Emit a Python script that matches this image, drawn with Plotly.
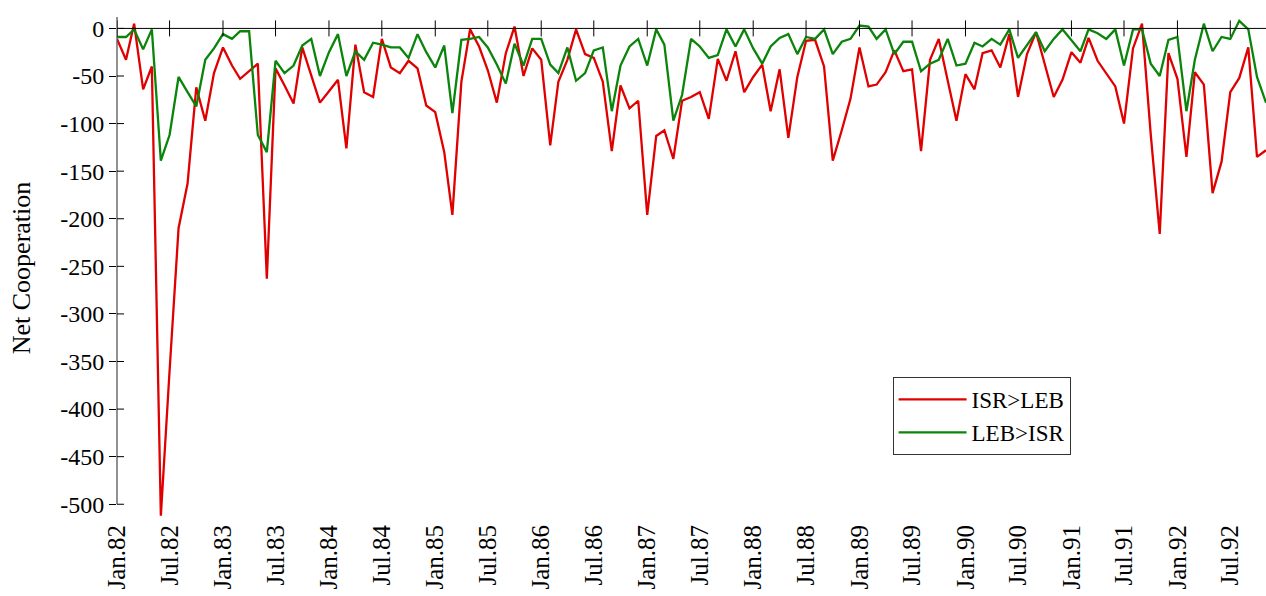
import plotly.graph_objects as go
import pandas as pd

# Monthly net cooperation, Jan 1982 - Nov 1992
months = pd.date_range("1982-01-01", periods=131, freq="MS")

isr_leb = [
    -11, -33, 5, -64, -40, -512, -360, -210, -163, -62, -97, -47,
    -20, -39, -53, -45, -37, -263, -42, -60, -79, -20, -50, -78,
    -66, -54, -126, -17, -67, -72, -11, -41, -47, -34, -42, -81,
    -88, -130, -196, -56, -1, -19, -44, -78, -26, 2, -50, -21,
    -33, -123, -56, -33, -1, -27, -31, -56, -129, -60, -84, -76,
    -196, -113, -107, -137, -76, -72, -67, -95, -32, -55, -24, -67,
    -51, -38, -87, -43, -115, -51, -13, -12, -40, -139, -107, -74,
    -20, -61, -59, -46, -23, -45, -43, -129, -33, -11, -55, -97,
    -48, -64, -26, -23, -41, -6, -72, -27, -4, -38, -72, -54,
    -25, -36, -10, -34, -47, -61, -100, -21, 5, -111, -216, -26,
    -53, -135, -46, -59, -173, -140, -67, -52, -20, -135, -128,
]

leb_isr = [
    -9, -9, -1, -22, -1, -139, -112, -51, -67, -82, -33, -21,
    -6, -11, -3, -3, -112, -130, -34, -47, -39, -18, -11, -50,
    -25, -6, -50, -24, -33, -15, -17, -20, -20, -31, -6, -25,
    -41, -18, -89, -12, -11, -9, -20, -38, -58, -16, -39, -11,
    -11, -38, -47, -20, -55, -47, -23, -20, -87, -39, -19, -11,
    -39, -1, -17, -97, -70, -11, -19, -31, -28, -1, -19, -1,
    -21, -37, -19, -10, -6, -27, -9, -11, -1, -27, -14, -11,
    3, 2, -11, -1, -27, -14, -14, -45, -37, -33, -11, -39,
    -37, -15, -19, -11, -17, -1, -31, -17, -4, -24, -11, -1,
    -12, -24, -1, -5, -11, -1, -39, -1, -1, -37, -50, -12,
    -9, -87, -33, 5, -24, -9, -11, 8, -1, -51, -78,
]

tick_dates = pd.date_range("1982-01-01", "1992-07-01", freq="6MS")
tick_text = [d.strftime("%b") + "." + d.strftime("%y") for d in tick_dates]
y_ticks = list(range(0, -501, -50))

X_RANGE = ["1982-01-01", "1992-11-01"]
Y_RANGE = [-515.5, 12]
FONT = "Liberation Serif, Times New Roman, serif"

fig = go.Figure()
fig.add_trace(go.Scatter(x=months, y=isr_leb, mode="lines", name="ISR>LEB",
                         line=dict(color="#e00000", width=2.3)))
fig.add_trace(go.Scatter(x=months, y=leb_isr, mode="lines", name="LEB>ISR",
                         line=dict(color="#0a840a", width=2.3)))

# axis lines and the ticks that cross them
shapes = [
    dict(type="line", xref="paper", yref="y", x0=0, x1=1, y0=0, y1=0,
         line=dict(color="black", width=1)),
    dict(type="line", xref="paper", yref="y", x0=0, x1=0,
         y0=y_ticks[-1], y1=Y_RANGE[1], line=dict(color="#555", width=1.3)),
]
for d in tick_dates:
    shapes.append(dict(type="line", xref="x", yref="y", x0=d, x1=d,
                       ysizemode="pixel", yanchor=0, y0=-8, y1=8,
                       line=dict(color="black", width=1)))
for v in y_ticks:
    shapes.append(dict(type="line", xref="paper", yref="y", y0=v, y1=v,
                       xsizemode="pixel", xanchor=0, x0=0, x1=7,
                       line=dict(color="black", width=1)))

fig.update_layout(
    width=1266, height=596,
    margin=dict(l=117, r=0, t=17, b=77),
    paper_bgcolor="white", plot_bgcolor="white",
    font=dict(family=FONT, size=24, color="black"),
    xaxis=dict(range=X_RANGE, type="date", tickmode="array",
               tickvals=tick_dates, ticktext=tick_text, ticks="",
               showline=False, showgrid=False, zeroline=False,
               automargin=False, tickangle=-90, tickfont=dict(size=25)),
    yaxis=dict(range=Y_RANGE, tickmode="array", tickvals=y_ticks,
               ticktext=[str(v) for v in y_ticks], ticks="outside",
               ticklen=7, tickcolor="black", showgrid=False, zeroline=False,
               showline=False, automargin=False, tickfont=dict(size=24),
               title=dict(text="Net Cooperation", standoff=22,
                          font=dict(size=26))),
    legend=dict(x=0.675, y=0.283, xanchor="left", yanchor="top",
                bgcolor="white", bordercolor="#333", borderwidth=1,
                itemwidth=68, font=dict(size=23)),
    shapes=shapes,
)

# drop the default page margin so the figure fills the window exactly
fig.write_html("out.html", config={"displayModeBar": False},
               post_script="document.body.style.margin='0';"
                           "document.body.style.overflow='hidden';")
